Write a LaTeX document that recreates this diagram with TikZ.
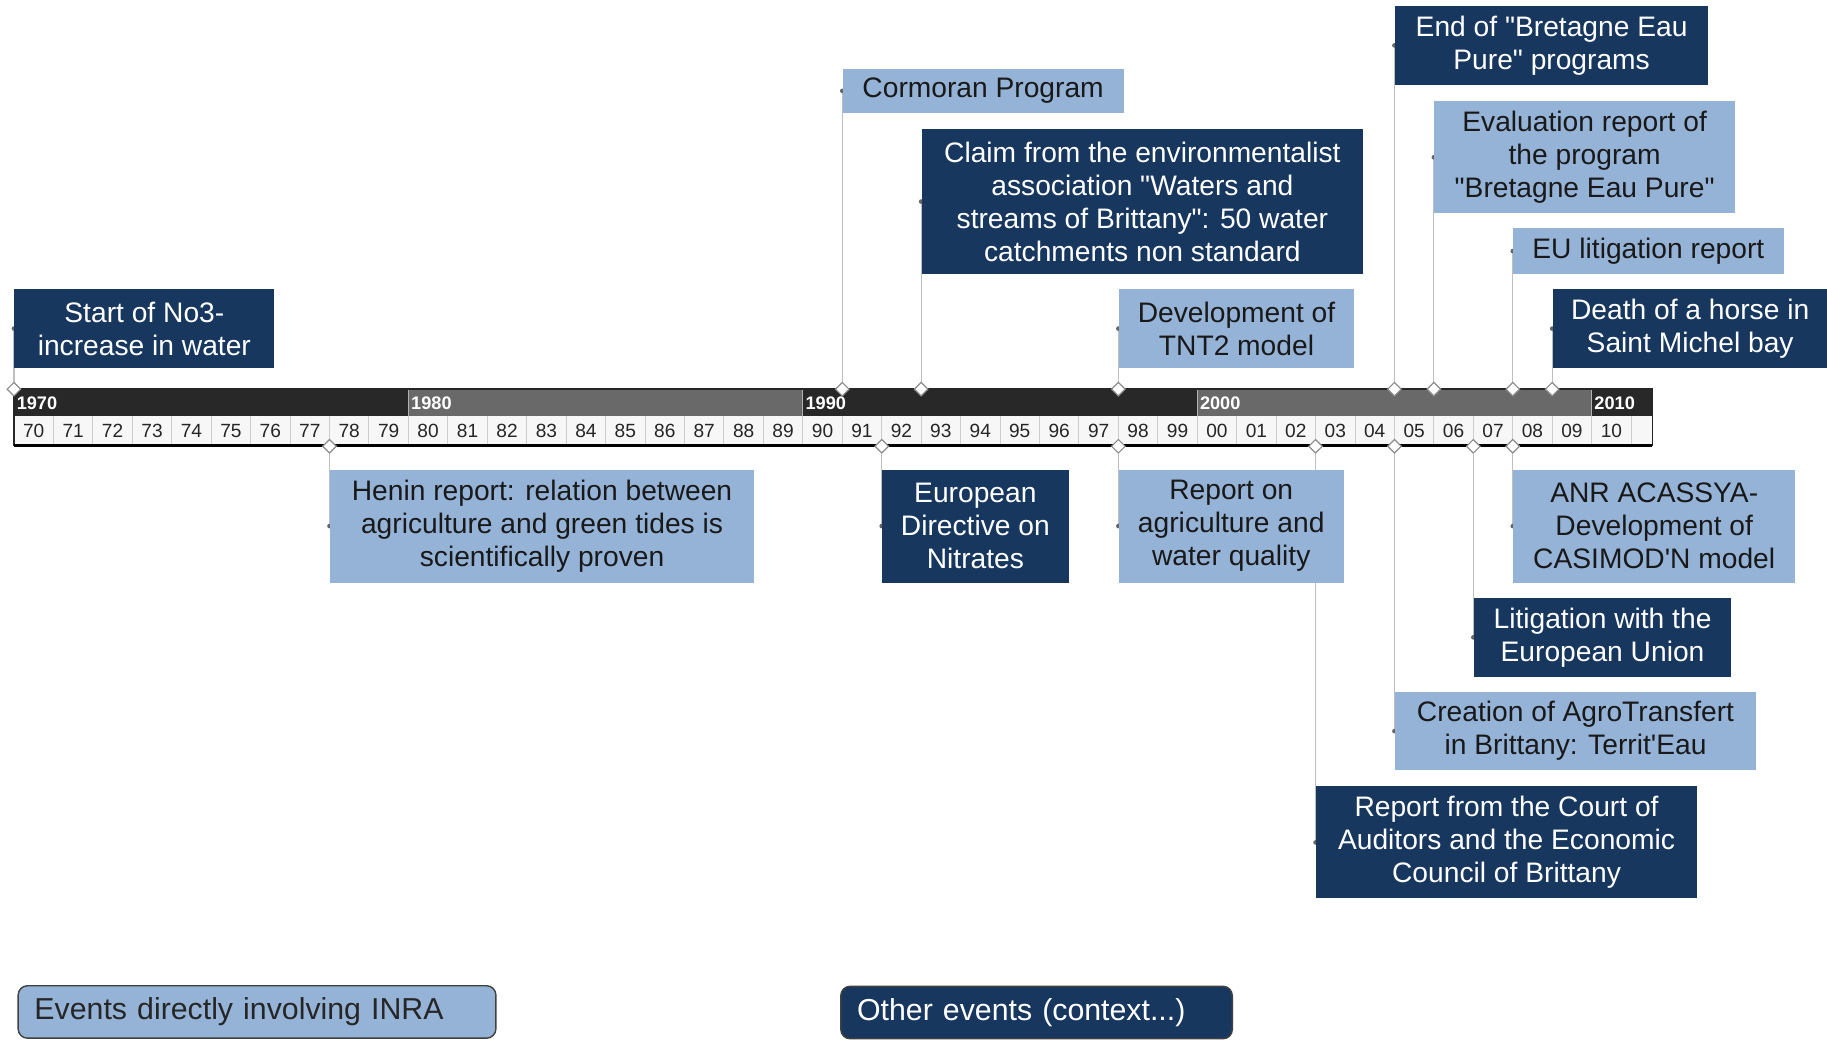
\documentclass[tikz,border=0pt]{standalone}
\usepackage{fontspec}
\setmainfont{Liberation Sans}
\usetikzlibrary{shapes.geometric,backgrounds}
\definecolor{navy}{RGB}{23,55,94}
\definecolor{skyblue}{RGB}{149,179,215}
\definecolor{tldark}{RGB}{40,40,40}
\definecolor{tlgray}{RGB}{105,105,105}
\definecolor{cellgray}{RGB}{205,205,205}
\newcommand\dq{\textquotedbl}
\tikzset{
  evbox/.style={anchor=west,align=center,inner sep=0pt,font=\fontsize{12.1}{14.2}\selectfont},
  inra/.style={evbox,fill=skyblue,text=black!90},
  ctx/.style={evbox,fill=navy,text=white},
  datemark/.style={diamond,draw=black!45,fill=white,inner sep=0pt,minimum size=6pt,line width=.5pt},
  link/.style={draw=black!25,line width=.5pt},
  yearlbl/.style={font=\fontsize{8.2}{8.2}\selectfont,text=black!85,inner sep=0pt},
  decade/.style={anchor=west,font=\bfseries\fontsize{7.8}{7.8}\selectfont,text=white,inner sep=0pt},
  legend/.style={anchor=west,rounded corners=4pt,draw=black!75,line width=.6pt,align=left,inner xsep=7pt,font=\fontsize{13}{13}\selectfont,minimum height=22.5pt}
}
\begin{document}
\begin{tikzpicture}[x=0.5pt,y=-0.5pt]
        \useasboundingbox (0,0) rectangle (1568,892);

        % timeline
        \foreach \d/\c in {0/tldark,1/tlgray,2/tldark,3/tlgray}
        {
            \fill[\c] ({12+\d*338.5},334) rectangle ++(338.5,23);
        }
        \fill[tldark] (1366,334) rectangle (1418,357);
        \fill[black!3] (12,357) rectangle (1418,382);
        \foreach \i in {1,...,41}
        {
            \draw[cellgray] ({12+\i*33.85},357) -- ++(0,25);
        }
        \foreach \d in {1,...,4}
        {
            \draw[black!30] ({12+\d*338.5},334) -- ++(0,23);
        }
        \foreach \i in {0,...,40}
        {
            \pgfmathtruncatemacro\yy{mod(70+\i,100)}
            \node[yearlbl] (yr\i) at ({12+(\i+.5)*33.85},370) {\ifnum\yy<10 0\fi\yy};
        }
        \foreach \d/\lbl in {0/1970,1/1980,2/1990,3/2000,4/2010}
        {
            \node[decade] (dec\lbl) at ({14+\d*338.5},346) {\lbl};
        }
        \draw[black!85,line width=.6pt] (12,334) rectangle (1418,382);
        \draw[black,line width=1.5pt] (12,382.5) -- (1418,382.5);

        % date markers
        \foreach \n in {0,21,23,28,35,36,38,39}
        {
            \node[datemark] (up\n) at ({12+\n*33.85},334) {};
        }
        \foreach \n in {8,22,28,33,35,37,38}
        {
            \node[datemark] (dn\n) at ({12+\n*33.85},383) {};
        }

        % events above
        \node[ctx,minimum width=111.5pt,minimum height=34pt] (no3) at (12,282) {Start of No3-\\increase in water};
        \node[inra,minimum width=120.5pt,minimum height=19pt] (cormoran) at ({12+21*33.85},78) {Cormoran Program};
        \node[ctx,minimum width=189.5pt,minimum height=62pt] (claim) at ({12+23*33.85},173) {Claim from the environmentalist\\association \dq Waters and\\streams of Brittany\dq: 50 water\\catchments non standard};
        \node[inra,minimum width=101pt,minimum height=34pt] (tnt) at ({12+28*33.85},282) {Development of\\TNT2 model};
        \node[ctx,minimum width=134.5pt,minimum height=34pt] (endbep) at ({12+35*33.85},39) {End of \dq Bretagne Eau\\Pure\dq{} programs};
        \node[inra,minimum width=129pt,minimum height=48pt] (evalbep) at ({12+36*33.85},135) {Evaluation report of\\the program\\\dq Bretagne Eau Pure\dq};
        \node[inra,minimum width=116pt,minimum height=19.5pt] (eulit) at ({12+38*33.85},215.5) {EU litigation report};
        \node[ctx,minimum width=118pt,minimum height=34pt] (horse) at ({12+39*33.85},282) {Death of a horse in\\Saint Michel bay};

        % events below
        \node[inra,minimum width=182pt,minimum height=48.5pt] (henin) at ({12+8*33.85},451.5) {Henin report: relation between\\agriculture and green tides is\\scientifically proven};
        \node[ctx,minimum width=80pt,minimum height=48.5pt] (directive) at ({12+22*33.85},451.5) {European\\Directive on\\Nitrates};
        \node[inra,minimum width=96.5pt,minimum height=48.5pt] (agriwater) at ({12+28*33.85},451.5) {Report on\\agriculture and\\water quality};
        \node[inra,minimum width=121pt,minimum height=48.5pt] (acassya) at ({12+38*33.85},451.5) {ANR ACASSYA-\\Development of\\CASIMOD\textquotesingle N model};
        \node[ctx,minimum width=110.5pt,minimum height=34pt] (euunion) at ({12+37*33.85},547) {Litigation with the\\European Union};
        \node[inra,minimum width=155pt,minimum height=33.5pt] (agrotr) at ({12+35*33.85},627.5) {Creation of AgroTransfert\\in Brittany: Territ\textquotesingle Eau};
        \node[ctx,minimum width=163.5pt,minimum height=48pt] (court) at ({12+33*33.85},723) {Report from the Court of\\Auditors and the Economic\\Council of Brittany};

        % connectors
        \begin{scope}[on background layer]
            \foreach \a/\b in {up0/no3,up21/cormoran,up23/claim,up28/tnt,up35/endbep,up36/evalbep,up38/eulit,up39/horse,dn8/henin,dn22/directive,dn28/agriwater,dn38/acassya,dn37/euunion,dn35/agrotr,dn33/court}
            {
                \draw[link] (\a) -- (\b.west);
                \fill[black!60] (\b.west) circle (1pt);
            }
        \end{scope}

        % legend
        \node[legend,fill=skyblue,text=black!85,text width=191pt] (keyinra) at (15,868.5) {Events directly involving INRA};
        \node[legend,fill=navy,text=white,text width=154pt] (keyctx) at (721,869) {Other events (context...)};

    \end{tikzpicture}
\end{document}
